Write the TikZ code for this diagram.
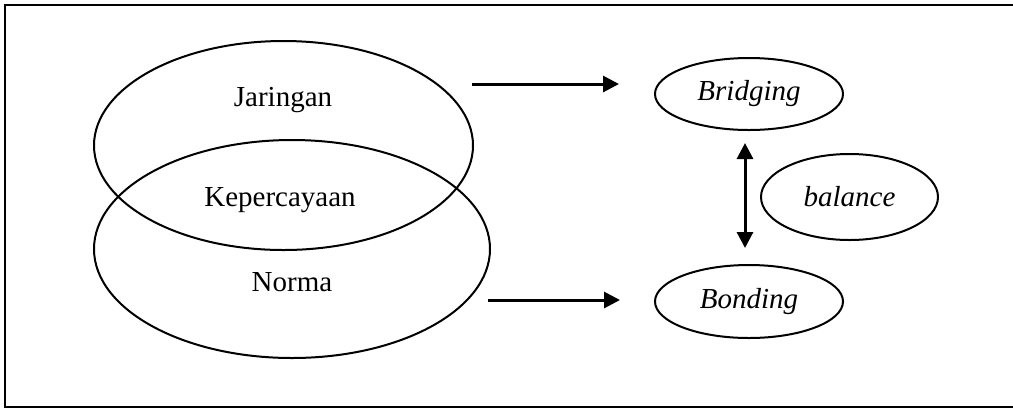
\documentclass[tikz,border=0pt]{standalone}
\usepackage{fontspec}
\setmainfont{Liberation Serif}
\usetikzlibrary{shapes.geometric, arrows.meta, positioning}
\tikzset{
    elips_besar/.style={ellipse, draw, line width=1pt, inner sep=0pt},
    elips_kecil/.style={ellipse, draw, line width=1pt, inner sep=0pt, font=\fontsize{14.5}{16}\selectfont\itshape},
    teks_elips/.style={inner sep=0pt, font=\fontsize{14.5}{16}\selectfont},
    panah/.style={-{Triangle[length=8pt, width=8pt]}, line width=1.5pt},
    panah_dua/.style={{Triangle[length=8pt, width=8pt]}-{Triangle[length=8pt, width=8pt]}, line width=1.5pt}
}

\begin{document}
\begin{tikzpicture}[x=0.5pt, y=-0.5pt]

    \useasboundingbox (0,0) rectangle (1013,409);

    % Bingkai (sisi kanan terpotong)
    \draw[line width=1pt] (1013,5) -- (5,5) -- (5,407) -- (1013,407);

    % 1. Dua elips besar yang saling tumpang tindih
    \node[elips_besar, minimum width=189.5pt, minimum height=104.5pt] (jaringan_el) at (283.5,145.5) {};
    \node[elips_besar, minimum width=198pt, minimum height=109pt] (norma_el) at (292,249) {};

    \node[teks_elips] (t_jaringan) at (283,100) {Jaringan};
    \node[teks_elips] (t_kepercayaan) at (280,200) {Kepercayaan};
    \node[teks_elips] (t_norma) at (292,282) {Norma};

    % 2. Elips kecil di kanan
    \node[elips_kecil, minimum width=94pt, minimum height=36pt] (bridging) at (749,94) {Bridging};
    \node[elips_kecil, minimum width=94pt, minimum height=36.5pt] (bonding) at (749,301.5) {Bonding};
    \node[elips_kecil, minimum width=88.5pt, minimum height=43pt] (balance) at (849.5,197) {balance};

    % --- PANAH ---
    \coordinate (awal_atas) at (472,84);
    \coordinate (awal_bawah) at (488,300);

    \draw[panah, shorten >=17.5pt] (awal_atas) -- (awal_atas -| bridging.west);
    \draw[panah, shorten >=17pt] (awal_bawah) -- (awal_bawah -| bonding.west);

    % Panah dua arah antara Bridging dan Bonding
    \draw[panah_dua, shorten <=6pt, shorten >=8pt] ([xshift=-2pt]bridging.south) -- ([xshift=-2pt]bonding.north);

\end{tikzpicture}
\end{document}
